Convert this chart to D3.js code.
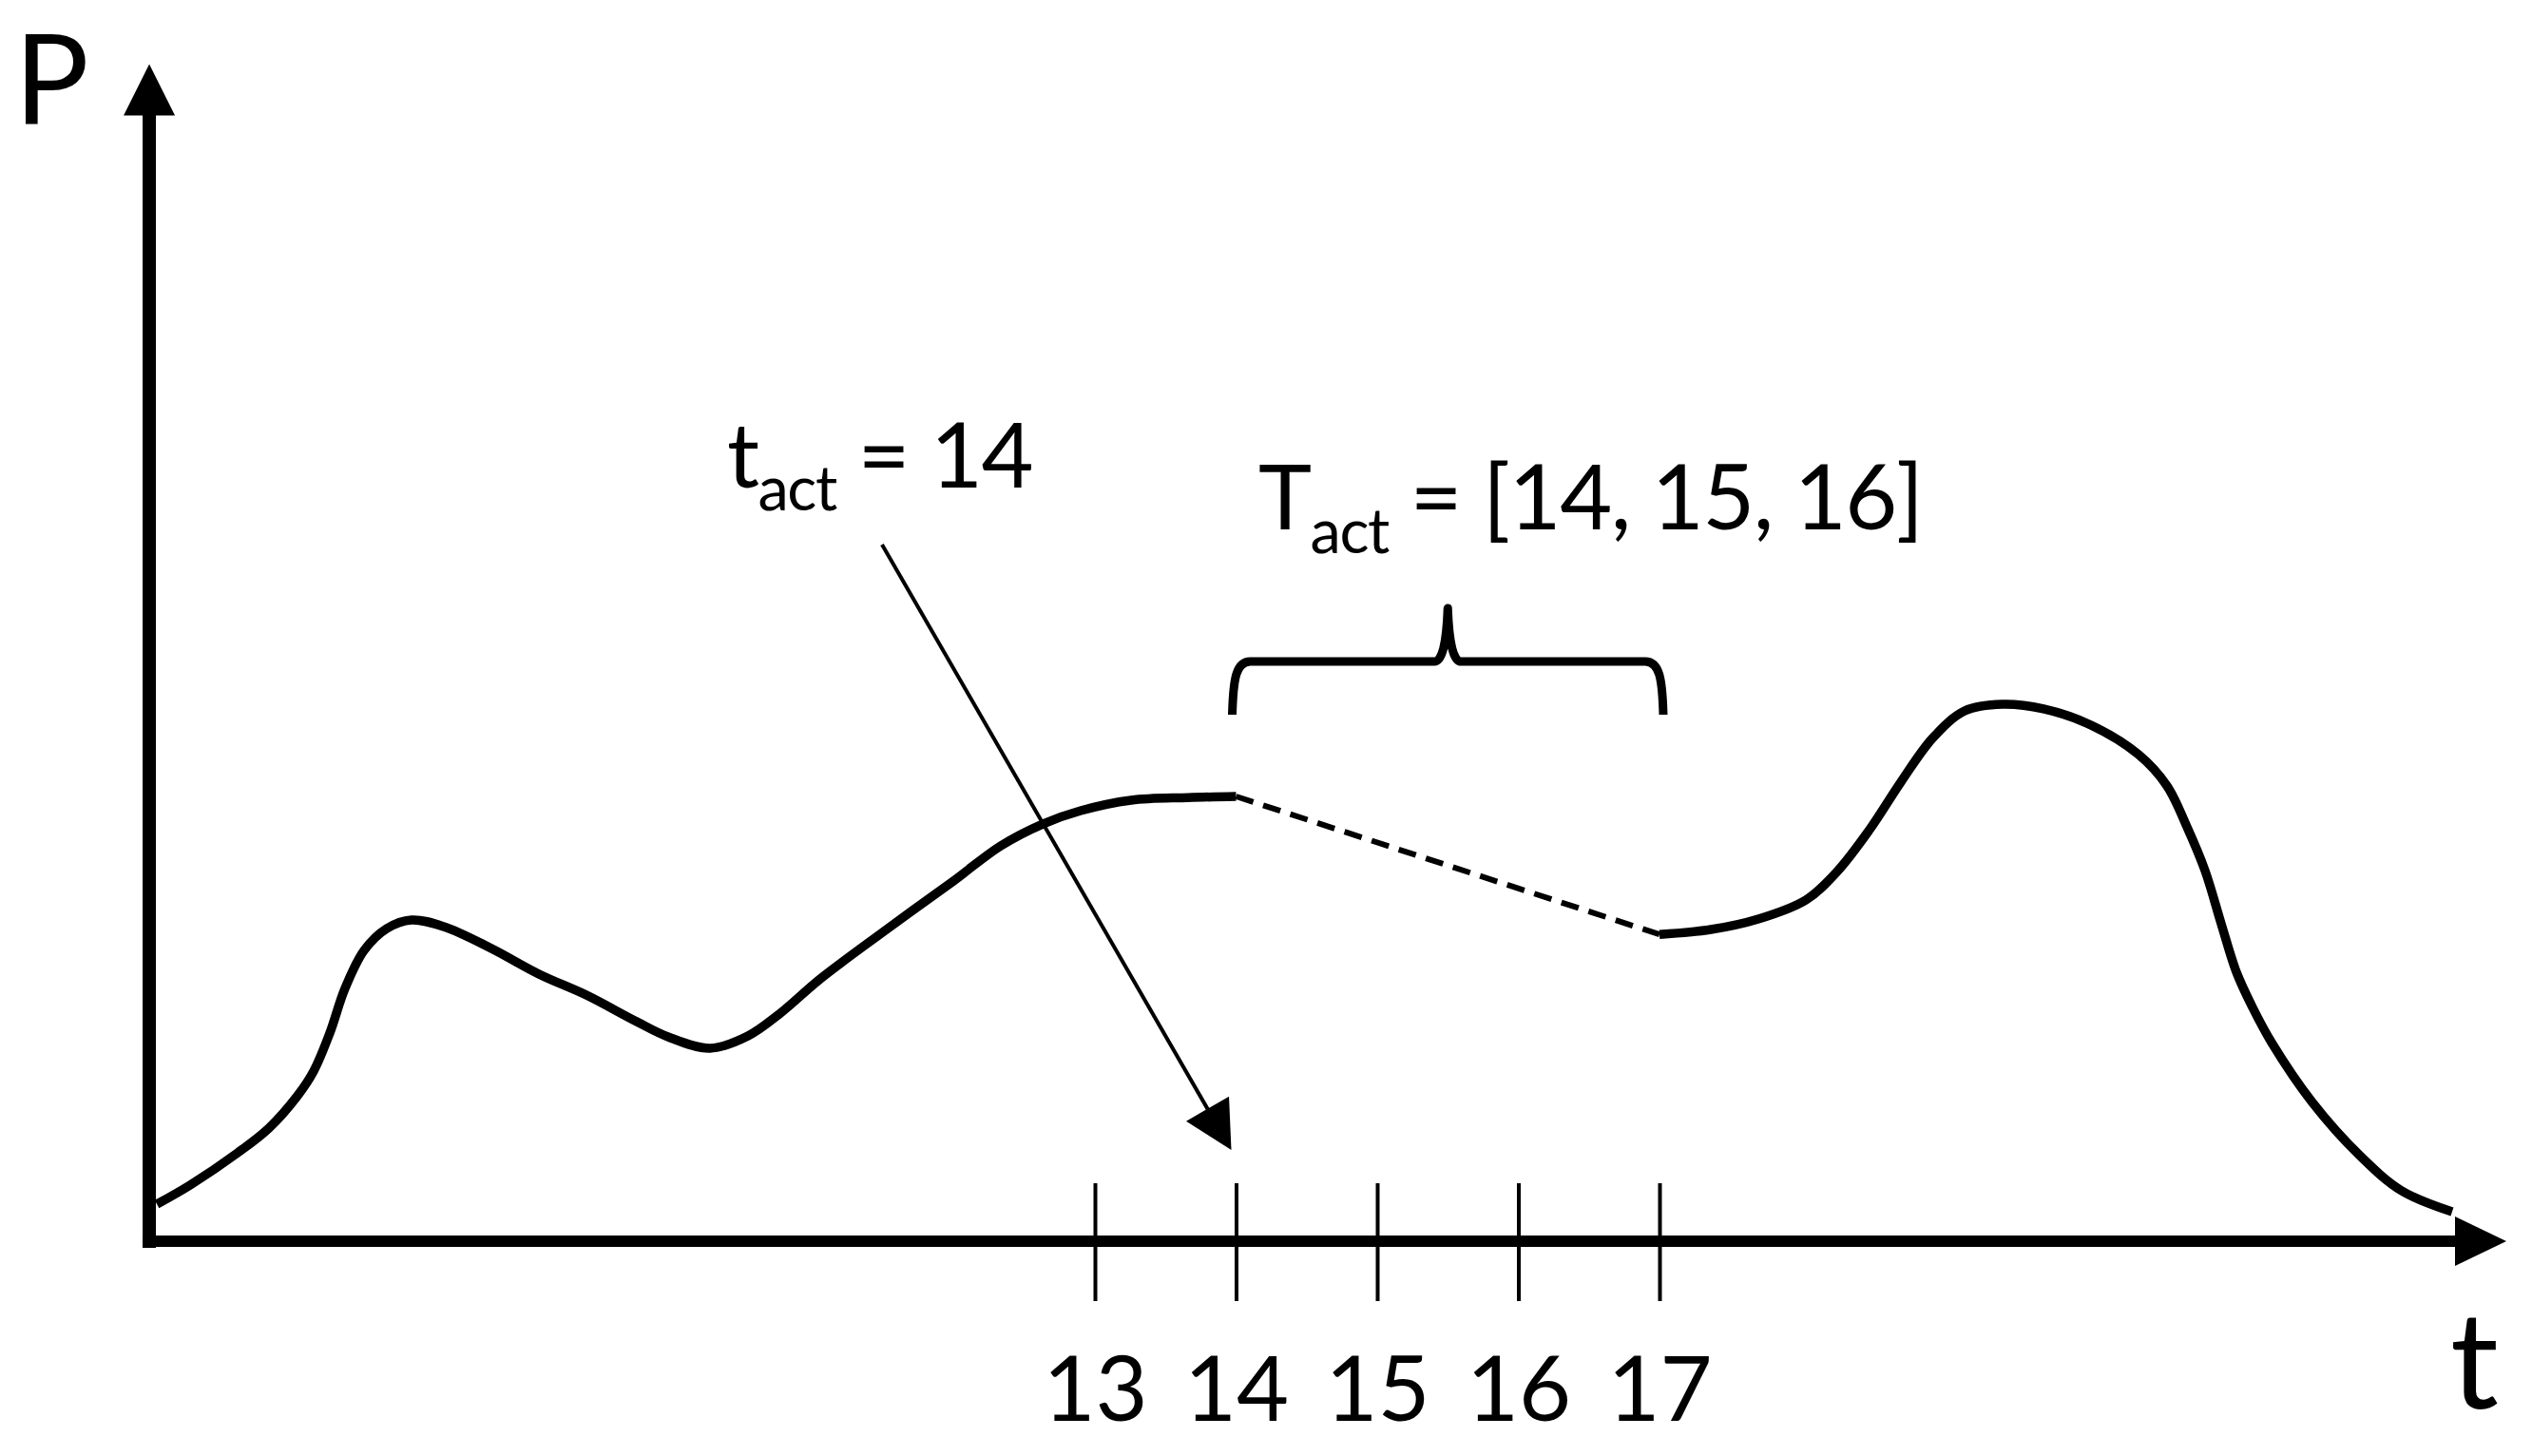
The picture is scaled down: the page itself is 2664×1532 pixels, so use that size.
<!DOCTYPE html>
<html>
<head>
<meta charset="utf-8">
<script src="https://cdn.jsdelivr.net/npm/d3@7"></script>
<style>
  html, body { margin: 0; padding: 0; background: #ffffff; }
  svg { display: block; }
  text { font-family: Lato, "Open Sans", sans-serif; fill: #000; }
</style>
</head>
<body>
<script>
// ---------------- data ----------------
const tickValues = [13, 14, 15, 16, 17];
const tickLabels = ["13", "14", "15", "16", "17"];

// power curve before the gap (t, P)
const seg1T = [6.354, 6.589, 6.926, 7.148, 7.350, 7.465, 7.579, 7.687, 7.822, 7.983, 8.158, 8.387, 8.724, 9.061, 9.397, 9.754, 9.976, 10.273, 10.542, 10.764, 11.054, 11.505, 11.997, 12.333, 12.630, 12.899, 13.256, 13.66, 14.0];
const seg1P = [3.25, 4.92, 7.75, 9.92, 12.75, 14.92, 18.25, 22.17, 25.5, 27.42, 28.17, 27.58, 25.67, 23.42, 21.58, 19.25, 17.92, 16.92, 18.0, 19.92, 23.0, 27.17, 31.58, 34.67, 36.58, 37.75, 38.67, 38.9, 39.0];

// interpolated (missing) part, dashed
const gapT = [14, 17];
const gapP = [39.0, 26.9];

// power curve after the gap
const seg3T = [17.0, 17.364, 17.700, 18.037, 18.259, 18.488, 18.710, 18.933, 19.162, 19.431, 19.721, 20.057, 20.394, 20.596, 20.731, 20.865, 20.980, 21.088, 21.202, 21.337, 21.626, 21.963, 22.259, 22.616];
const seg3P = [26.9, 27.33, 28.25, 29.92, 32.42, 36.08, 40.25, 44.08, 46.5, 47.08, 46.67, 45.25, 42.67, 39.92, 36.5, 32.5, 27.83, 23.58, 20.5, 17.42, 12.17, 7.5, 4.42, 2.58];

const tAct = 14;
const TAct = [14, 15, 16];
const axisLabelY = "P";
const axisLabelX = "t";

// ---------------- layout ----------------
const W = 2664, H = 1532;
const x = d3.scaleLinear().domain([13, 17]).range([1152, 1746]);
const y = d3.scaleLinear().domain([0, 100]).range([1306, 106]);
const tOrigin = 6.3, tEnd = 23.0, pTop = 103.2;

const svg = d3.select("body").append("svg")
  .attr("width", W).attr("height", H)
  .attr("viewBox", `0 0 ${W} ${H}`);
svg.append("rect").attr("width", W).attr("height", H).attr("fill", "#fff");

const x0 = x(tOrigin), y0 = y(0);

// y axis
const yTip = y(pTop);
svg.append("line")
  .attr("x1", x0).attr("x2", x0)
  .attr("y1", y0 + 7).attr("y2", yTip + 50)
  .attr("stroke", "#000").attr("stroke-width", 14);
svg.append("path")
  .attr("d", `M${x0},${yTip} L${x0 - 27},${yTip + 54} L${x0 + 27},${yTip + 54} Z`)
  .attr("fill", "#000");

// x axis
const xTip = x(tEnd);
svg.append("line")
  .attr("x1", x0 - 7).attr("x2", xTip - 50)
  .attr("y1", y0).attr("y2", y0)
  .attr("stroke", "#000").attr("stroke-width", 12);
svg.append("path")
  .attr("d", `M${xTip},${y0} L${xTip - 54},${y0 - 26} L${xTip - 54},${y0 + 26} Z`)
  .attr("fill", "#000");

// ticks crossing the axis
const axisG = svg.append("g")
  .attr("transform", `translate(0,${y0 - 61})`)
  .call(d3.axisBottom(x).tickValues(tickValues).tickSize(124)
        .tickFormat((d, i) => tickLabels[i]));
axisG.select(".domain").remove();
axisG.selectAll(".tick line").attr("stroke", "#000").attr("stroke-width", 4);
axisG.selectAll(".tick text")
  .attr("y", 250).attr("dy", 0)
  .attr("font-family", "Lato, sans-serif")
  .attr("font-size", 95).attr("fill", "#000");

// axis labels
svg.append("text").attr("x", 15).attr("y", 130)
  .attr("font-size", 131).text(axisLabelY);
svg.append("text").attr("x", 2578).attr("y", 1482)
  .attr("font-size", 142).text(axisLabelX);

// curves
const line = d3.line().x(d => x(d[0])).y(d => y(d[1])).curve(d3.curveCatmullRom.alpha(0.5));
const seg1 = seg1T.map((t, i) => [t, seg1P[i]]);
const seg3 = seg3T.map((t, i) => [t, seg3P[i]]);
const gap = gapT.map((t, i) => [t, gapP[i]]);

svg.append("path").attr("d", line(seg1))
  .attr("fill", "none").attr("stroke", "#000").attr("stroke-width", 9.5);
svg.append("path").attr("d", line(seg3))
  .attr("fill", "none").attr("stroke", "#000").attr("stroke-width", 9.5);
svg.append("path").attr("d", d3.line().x(d => x(d[0])).y(d => y(d[1]))(gap))
  .attr("fill", "none").attr("stroke", "#000").attr("stroke-width", 6)
  .attr("stroke-dasharray", "19 11");

// brace over T_act
const bL = x(TAct[0]), bR = x(TAct[TAct.length - 1] + 1);
const bM = (bL + bR) / 2;
const bTop = 696, bBot = 752, bCusp = 640;
svg.append("path")
  .attr("d", `M${bL - 4},${bBot} C${bL - 3},${bTop + 18} ${bL},${bTop} ${bL + 15},${bTop}
              L${bM - 14},${bTop} Q${bM - 2},${bTop} ${bM},${bCusp}
              Q${bM + 2},${bTop} ${bM + 14},${bTop}
              L${bR - 15},${bTop} C${bR},${bTop} ${bR + 3},${bTop + 18} ${bR + 4},${bBot}`)
  .attr("fill", "none").attr("stroke", "#000").attr("stroke-width", 9)
  .attr("stroke-linejoin", "round");

// annotation arrow for t_act
const ax1 = 928, ay1 = 573;
const ax2 = x(tAct) - 5, ay2 = y(8);
const dx = ax2 - ax1, dy = ay2 - ay1, L = Math.hypot(dx, dy);
const ux = dx / L, uy = dy / L;
const hl = 50, hw = 26;
svg.append("line")
  .attr("x1", ax1).attr("y1", ay1)
  .attr("x2", ax2 - ux * (hl - 2)).attr("y2", ay2 - uy * (hl - 2))
  .attr("stroke", "#000").attr("stroke-width", 4);
const bx = ax2 - ux * hl, by = ay2 - uy * hl;
svg.append("path")
  .attr("d", `M${ax2},${ay2} L${bx - uy * hw},${by + ux * hw} L${bx + uy * hw},${by - ux * hw} Z`)
  .attr("fill", "#000");

// label t_act = 14
const t1 = svg.append("text").attr("x", 765).attr("y", 513).attr("font-size", 95)
  .attr("letter-spacing", -1.5);
t1.append("tspan").text("t");
t1.append("tspan").attr("font-size", 65).attr("dy", 24).text("act");
t1.append("tspan").attr("dy", -24).text(" = " + tAct);

// label T_act = [14, 15, 16]
const t2 = svg.append("text").attr("x", 1324).attr("y", 557).attr("font-size", 95)
  .attr("letter-spacing", -1.5);
t2.append("tspan").text("T");
t2.append("tspan").attr("font-size", 65).attr("dy", 25).text("act");
t2.append("tspan").attr("dy", -25).text(" = [" + TAct.join(", ") + "]");
</script>
</body>
</html>
